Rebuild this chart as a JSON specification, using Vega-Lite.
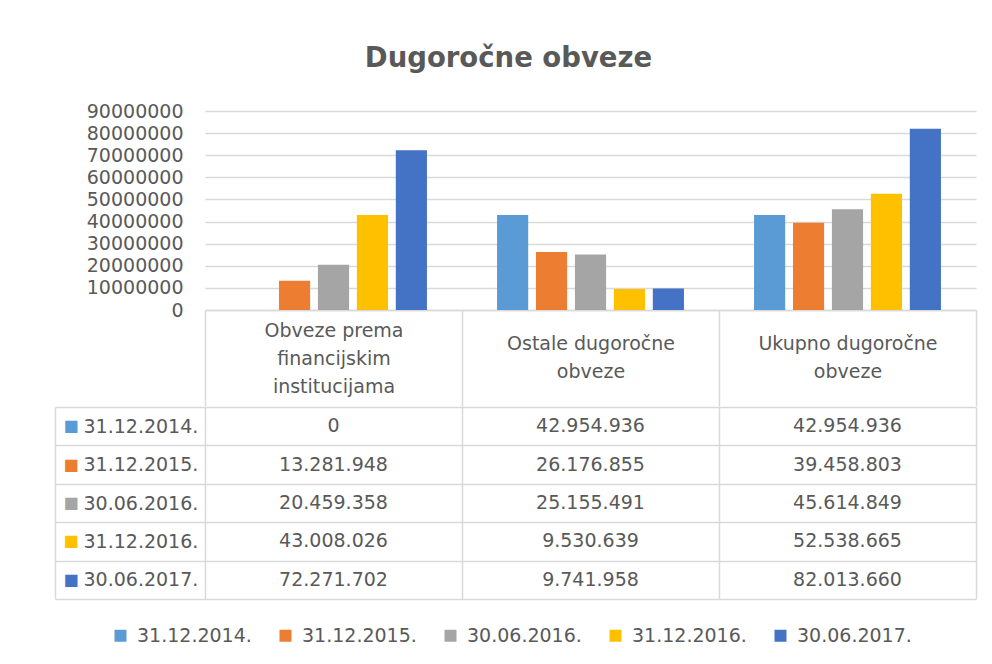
{
  "$schema": "https://vega.github.io/schema/vega-lite/v6.json",
  "padding": {"left": 54, "top": 44, "right": 10, "bottom": 10},
  "background": "white",
  "spacing": -10,
  "title": {"text": "Dugoročne obveze", "fontSize": 27.5, "fontWeight": "bold", "color": "#595959", "font": "DejaVu Sans", "anchor": "middle", "offset": 30, "dx": -7},
  "config": {
    "font": "DejaVu Sans",
    "locale": {"number": {"decimal": ",", "thousands": ".", "grouping": [3], "currency": ["", ""]}},
    "view": {"stroke": null}
  },
  "data": {"values": [
    {"kategorija": "Obveze prema financijskim institucijama", "datum": "31.12.2014.", "iznos": 0},
    {"kategorija": "Obveze prema financijskim institucijama", "datum": "31.12.2015.", "iznos": 13281948},
    {"kategorija": "Obveze prema financijskim institucijama", "datum": "30.06.2016.", "iznos": 20459358},
    {"kategorija": "Obveze prema financijskim institucijama", "datum": "31.12.2016.", "iznos": 43008026},
    {"kategorija": "Obveze prema financijskim institucijama", "datum": "30.06.2017.", "iznos": 72271702},
    {"kategorija": "Ostale dugoročne obveze", "datum": "31.12.2014.", "iznos": 42954936},
    {"kategorija": "Ostale dugoročne obveze", "datum": "31.12.2015.", "iznos": 26176855},
    {"kategorija": "Ostale dugoročne obveze", "datum": "30.06.2016.", "iznos": 25155491},
    {"kategorija": "Ostale dugoročne obveze", "datum": "31.12.2016.", "iznos": 9530639},
    {"kategorija": "Ostale dugoročne obveze", "datum": "30.06.2017.", "iznos": 9741958},
    {"kategorija": "Ukupno dugoročne obveze", "datum": "31.12.2014.", "iznos": 42954936},
    {"kategorija": "Ukupno dugoročne obveze", "datum": "31.12.2015.", "iznos": 39458803},
    {"kategorija": "Ukupno dugoročne obveze", "datum": "30.06.2016.", "iznos": 45614849},
    {"kategorija": "Ukupno dugoročne obveze", "datum": "31.12.2016.", "iznos": 52538665},
    {"kategorija": "Ukupno dugoročne obveze", "datum": "30.06.2017.", "iznos": 82013660}
  ]},
  "vconcat": [
    {
      "width": 771,
      "height": 199,
      "mark": {"type": "bar"},
      "encoding": {
        "x": {
          "field": "kategorija", "type": "nominal", "sort": null,
          "scale": {"paddingInner": 0, "paddingOuter": 0},
          "axis": {
            "title": null, "orient": "bottom", "tickBand": "extent",
            "tickSize": 96, "tickColor": "#d9d9d9", "tickWidth": 1.5,
            "domainColor": "#d9d9d9", "domainWidth": 1.5,
            "labelAngle": 0, "labelBaseline": "middle",
            "labelPadding": {"condition": {"test": "datum.label == 'Obveze prema financijskim institucijama'", "value": -76}, "value": -63},
            "labelFontSize": 19, "labelColor": "#595959", "labelLineHeight": 28,
            "labelLimit": 300, "labelOverlap": false,
            "labelExpr": "datum.label == 'Obveze prema financijskim institucijama' ? ['Obveze prema', 'financijskim', 'institucijama'] : datum.label == 'Ostale dugoročne obveze' ? ['Ostale dugoročne', 'obveze'] : datum.label == 'Ukupno dugoročne obveze' ? ['Ukupno dugoročne', 'obveze'] : ''"
          }
        },
        "xOffset": {
          "field": "datum", "type": "nominal",
          "sort": ["31.12.2014.", "31.12.2015.", "30.06.2016.", "31.12.2016.", "30.06.2017."],
          "scale": {"paddingInner": 0.2, "paddingOuter": 0.9}
        },
        "y": {
          "field": "iznos", "type": "quantitative",
          "scale": {"domain": [0, 90000000], "nice": false},
          "axis": {
            "title": null,
            "values": [0, 10000000, 20000000, 30000000, 40000000, 50000000, 60000000, 70000000, 80000000, 90000000],
            "format": "d", "ticks": false, "domain": false,
            "grid": true, "gridColor": "#d9d9d9", "gridWidth": 1.5,
            "labelPadding": 22, "labelFontSize": 19, "labelColor": "#595959",
            "labelOverlap": false, "labelFlush": false
          }
        },
        "color": {
          "field": "datum", "type": "nominal",
          "sort": ["31.12.2014.", "31.12.2015.", "30.06.2016.", "31.12.2016.", "30.06.2017."],
          "scale": {
            "domain": ["31.12.2014.", "31.12.2015.", "30.06.2016.", "31.12.2016.", "30.06.2017."],
            "range": ["#5B9BD5", "#ED7D31", "#A5A5A5", "#FFC000", "#4472C4"]
          },
          "legend": {
            "title": null, "orient": "none", "legendX": -94, "legendY": 515,
            "direction": "horizontal",
            "symbolType": "square", "symbolSize": 144, "symbolStrokeWidth": 0,
            "labelFontSize": 19, "labelColor": "#595959", "labelOffset": 7,
            "columnPadding": 24, "labelLimit": 200
          }
        }
      }
    },
    {
      "width": 771,
      "height": 192,
      "layer": [
        {
          "mark": {"type": "text", "fontSize": 19, "color": "#595959"},
          "encoding": {
            "x": {
              "field": "kategorija", "type": "nominal", "sort": null,
              "scale": {"paddingInner": 0, "paddingOuter": 0},
              "axis": {
                "title": null, "orient": "bottom", "labels": false, "ticks": false,
                "domain": false, "grid": true, "tickBand": "extent",
                "gridColor": "#d9d9d9", "gridWidth": 1.5
              }
            },
            "y": {
              "field": "datum", "type": "nominal",
              "sort": ["31.12.2014.", "31.12.2015.", "30.06.2016.", "31.12.2016.", "30.06.2017."],
              "scale": {"paddingInner": 0, "paddingOuter": 0},
              "axis": {
                "title": null, "orient": "left", "tickBand": "extent",
                "grid": true, "gridColor": "#d9d9d9", "gridWidth": 1.5,
                "ticks": true, "tickSize": 150, "tickColor": "#d9d9d9", "tickWidth": 1.5,
                "domain": false, "labelAlign": "left", "labelPadding": -28,
                "labelFontSize": 19, "labelColor": "#595959", "labelBaseline": "middle",
                "labelOverlap": false
              }
            },
            "text": {"field": "iznos", "type": "quantitative", "format": ",d"}
          }
        },
        {
          "mark": {"type": "text"},
          "encoding": {
            "y": {
              "field": "datum", "type": "nominal",
              "sort": ["31.12.2014.", "31.12.2015.", "30.06.2016.", "31.12.2016.", "30.06.2017."],
              "axis": {
                "title": null, "orient": "left", "offset": 150,
                "domain": true, "domainColor": "#d9d9d9", "domainWidth": 1.5,
                "ticks": false, "grid": false, "labelExpr": "'■'",
                "labelAlign": "left", "labelPadding": -8, "labelFontSize": 16,
                "labelBaseline": "middle", "labelOverlap": false,
                "labelColor": {
                  "condition": [
                    {"test": "datum.value === '31.12.2014.'", "value": "#5B9BD5"},
                    {"test": "datum.value === '31.12.2015.'", "value": "#ED7D31"},
                    {"test": "datum.value === '30.06.2016.'", "value": "#A5A5A5"},
                    {"test": "datum.value === '31.12.2016.'", "value": "#FFC000"}
                  ],
                  "value": "#4472C4"
                }
              }
            },
            "text": {"value": ""}
          }
        }
      ],
      "resolve": {"axis": {"y": "independent"}}
    }
  ]
}
